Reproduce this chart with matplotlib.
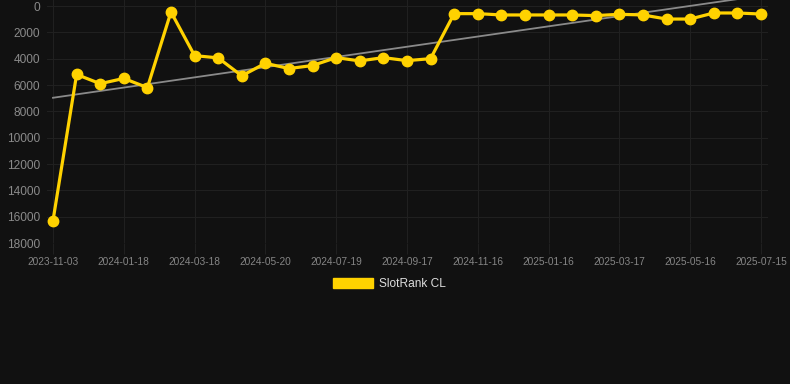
import matplotlib.pyplot as plt
from matplotlib.patches import Patch
import numpy as np

# rank values (lower = better, y axis inverted)
rank = [16300, 5200, 5900, 5500, 6200, 450, 3770, 3940, 5300, 4350,
        4750, 4520, 3920, 4170, 3920, 4150, 4000, 580, 580, 680,
        680, 680, 680, 730, 630, 680, 990, 990, 530, 530, 610]
tick_labels = ["2023-11-03", "2024-01-18", "2024-03-18", "2024-05-20",
               "2024-07-19", "2024-09-17", "2024-11-16", "2025-01-16",
               "2025-03-17", "2025-05-16", "2025-07-15"]
series_name = "SlotRank CL"

BG = "#111111"
GRID = "#202020"
GOLD = "#FFD200"

plt.rcParams['font.family'] = ['Liberation Sans', 'DejaVu Sans']

x = np.arange(len(rank))
fig = plt.figure(figsize=(7.9, 3.84), dpi=100, facecolor=BG)
ax = fig.add_axes([47 / 790, 1 - 243 / 384, 721 / 790, 243 / 384])
ax.set_facecolor(BG)

# linear trend
coef = np.polyfit(x, rank, 1)
ax.plot(x, np.polyval(coef, x), color="#8a8a8a", lw=1.3, zorder=2)

ax.plot(x, rank, color=GOLD, lw=2.3, marker="o", ms=7.5, zorder=3)

ax.set_xlim(-0.254, 30.3)
ax.set_ylim(18000, -456)
ax.set_yticks(np.arange(0, 18001, 2000))
ax.set_xticks(x[::3])
ax.set_xticklabels(tick_labels)
ax.grid(True, color=GRID, lw=0.8, zorder=0)
for s in ax.spines.values():
    s.set_visible(False)
ax.tick_params(axis="x", colors=GRID, length=8, width=0.8, labelsize=7.3, labelcolor="#858585", pad=2)
ax.tick_params(axis="y", length=0, labelsize=8.6, labelcolor="#8a8a8a", pad=5)

fig.legend(handles=[Patch(facecolor=GOLD, edgecolor=GOLD, label=series_name)],
           loc="center", bbox_to_anchor=(0.493, 1 - 284 / 384), frameon=False,
           fontsize=8.6, labelcolor="#dddddd", handlelength=3.3, handleheight=0.9,
           handletextpad=0.5)

fig.savefig("out.png", dpi=100, facecolor=BG)
